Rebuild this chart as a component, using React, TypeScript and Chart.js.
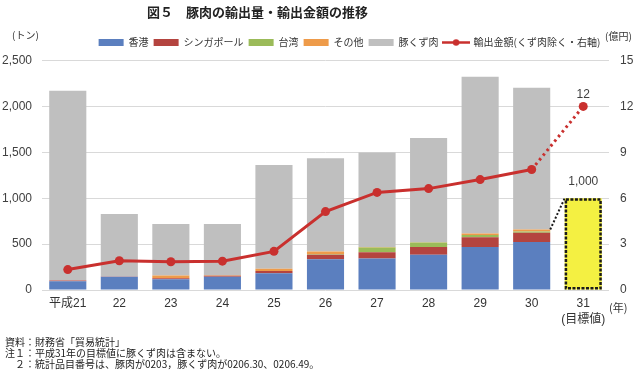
import React, { useEffect, useRef } from 'react';
import { Chart, registerables } from 'chart.js';

Chart.register(...registerables);

const categories: (string | string[])[] = ['平成21', '22', '23', '24', '25', '26', '27', '28', '29', '30', ['31', '(目標値)']];
const hongKong = [95, 146, 117, 146, 183, 337, 345, 385, 469, 524, null];
const singapore = [10, 3, 11, 10, 26, 48, 66, 84, 107, 99, null];
const taiwan = [0, 0, 0, 0, 0, 5, 52, 48, 25, 15, null];
const others = [0, 0, 30, 5, 24, 29, 5, 5, 15, 22, null];
const porkOffal = [2065, 680, 561, 558, 1128, 1016, 1030, 1133, 1708, 1543, null];
const target = [null, null, null, null, null, null, null, null, null, null, 1000];
const exportValue = [1.34, 1.92, 1.85, 1.89, 2.53, 5.13, 6.38, 6.63, 7.22, 7.88, 12];

const leftTicks = [0, 500, 1000, 1500, 2000, 2500];
const rightTicks = [0, 3, 6, 9, 12, 15];

const seriesNames = ['香港', 'シンガポール', '台湾', 'その他', '豚くず肉', '目標値', '輸出金額(くず肉除く・右軸)'];
const seriesColors = ['#5B7FBF', '#B4443F', '#9BBB59', '#EE9B4A', '#BFBFBF', '#F4F042', '#C9302E'];

const FONT = "'Liberation Sans', 'Noto Sans CJK JP', sans-serif";
const JFONT = "'Noto Sans CJK JP', 'Liberation Sans', sans-serif";

function makeLineIcon(color: string) {
  const c = document.createElement('canvas');
  c.width = 28;
  c.height = 9;
  const g = c.getContext('2d')!;
  g.strokeStyle = color;
  g.lineWidth = 2.5;
  g.beginPath();
  g.moveTo(0, 4.5);
  g.lineTo(28, 4.5);
  g.stroke();
  g.fillStyle = color;
  g.beginPath();
  g.arc(14, 4.5, 3.2, 0, Math.PI * 2);
  g.fill();
  return c;
}

const LEGEND_SHIFT_X = 32;
const LEGEND_SHIFT_Y = -3;

const annotatePlugin = {
  id: 'annotate',
  afterLayout(chart: any) {
    const lg = chart.legend;
    if (lg) {
      lg.left += LEGEND_SHIFT_X;
      lg.right += LEGEND_SHIFT_X;
      lg.top += LEGEND_SHIFT_Y;
      lg.bottom += LEGEND_SHIFT_Y;
    }
  },
  afterDatasetsDraw(chart: any) {
    const ctx = chart.ctx;
    const yS = chart.scales.y;
    const tIdx = categories.length - 1;
    const targetBar = chart.getDatasetMeta(5).data[tIdx];
    const prevBar = chart.getDatasetMeta(0).data[tIdx - 1];
    if (!targetBar || !prevBar) return;
    const tb = targetBar.getProps(['x', 'y', 'base', 'width'], true);
    const pb = prevBar.getProps(['x', 'width'], true);
    ctx.save();
    ctx.strokeStyle = '#1a1a1a';
    ctx.lineWidth = 2.5;
    ctx.setLineDash([3, 1.5]);
    ctx.strokeRect(tb.x - tb.width / 2 + 1.25, tb.y + 1.25, tb.width - 2.5, tb.base - tb.y - 2.5);
    const stackTop = (hongKong[tIdx - 1] || 0) + (singapore[tIdx - 1] || 0) + (taiwan[tIdx - 1] || 0) + (others[tIdx - 1] || 0);
    ctx.lineWidth = 2;
    ctx.setLineDash([2, 2]);
    ctx.beginPath();
    ctx.moveTo(pb.x + pb.width / 2, yS.getPixelForValue(stackTop));
    ctx.lineTo(tb.x - tb.width / 2, tb.y);
    ctx.stroke();
    ctx.setLineDash([]);
    ctx.fillStyle = '#404040';
    ctx.font = `12px ${FONT}`;
    ctx.textAlign = 'center';
    ctx.textBaseline = 'middle';
    ctx.fillText((target[tIdx] as number).toLocaleString('en-US'), tb.x, tb.y - 17);
    const pt = chart.getDatasetMeta(6).data[tIdx];
    if (pt) ctx.fillText(String(exportValue[tIdx]), pt.x, pt.y - 12);
    ctx.restore();
  },
};

export default function App() {
  const ref = useRef<HTMLCanvasElement>(null);

  useEffect(() => {
    const lineIcon = makeLineIcon(seriesColors[6]);
    const barSeries = [hongKong, singapore, taiwan, others, porkOffal, target];
    const datasets: any[] = barSeries.map((d, i) => ({
      type: 'bar',
      label: seriesNames[i],
      data: d,
      backgroundColor: seriesColors[i],
      borderWidth: 0,
      yAxisID: 'y',
      stack: 'volume',
      order: 2,
    }));
    datasets.push({
      type: 'line',
      label: seriesNames[6],
      data: exportValue,
      borderColor: seriesColors[6],
      backgroundColor: seriesColors[6],
      borderWidth: 3,
      pointRadius: 4.5,
      pointBorderWidth: 0,
      pointBackgroundColor: seriesColors[6],
      tension: 0,
      yAxisID: 'y1',
      order: 0,
      segment: {
        borderDash: (c: any) => (c.p1DataIndex === categories.length - 1 ? [2.5, 3.5] : undefined),
      },
    });

    const chart = new Chart(ref.current!, {
      type: 'bar',
      data: { labels: categories as any, datasets },
      plugins: [annotatePlugin],
      options: {
        responsive: false,
        animation: false,
        devicePixelRatio: 1,
        layout: { padding: { left: 2, right: 7, top: 35.5, bottom: 43 } },
        font: { family: FONT },
        plugins: {
          tooltip: { enabled: false },
          title: { display: false },
          legend: {
            display: true,
            position: 'top',
            align: 'center',
            labels: {
              usePointStyle: true,
              pointStyleWidth: 25,
              boxHeight: 7,
              padding: 5,
              color: '#333',
              font: { size: 10, family: JFONT },
              filter: (item: any) => item.datasetIndex !== 5,
              generateLabels: (ch: any) => {
                const base = (Chart.defaults.plugins.legend.labels as any).generateLabels(ch);
                return base
                  .sort((a: any, b: any) => a.datasetIndex - b.datasetIndex)
                  .map((it: any) => ({
                    ...it,
                    pointStyle: it.datasetIndex === 6 ? lineIcon : 'rect',
                    lineWidth: 0,
                    strokeStyle: 'transparent',
                    fillStyle: seriesColors[it.datasetIndex],
                  }));
              },
            },
          },
        },
        scales: {
          x: {
            stacked: true,
            offset: true,
            grid: { display: false, drawTicks: false },
            border: { display: false },
            ticks: {
              color: '#333',
              padding: 6,
              font: { size: 12, family: FONT, lineHeight: 1.33 },
              maxRotation: 0,
              autoSkip: false,
            },
            afterFit: (s: any) => { s.paddingLeft = 0; s.paddingRight = 0; },
            categoryPercentage: 0.505,
            barPercentage: 1,
          } as any,
          y: {
            stacked: true,
            position: 'left',
            min: leftTicks[0],
            max: leftTicks[leftTicks.length - 1],
            afterBuildTicks: (s: any) => { s.ticks = leftTicks.map((v) => ({ value: v })); },
            afterFit: (s: any) => { s.width = 40; },
            grid: { color: '#D9D9D9', lineWidth: 1, drawTicks: false },
            border: { display: false },
            ticks: {
              color: '#404040',
              padding: 10,
              font: { size: 12, family: FONT },
              callback: (v: any) => Number(v).toLocaleString('en-US'),
            },
          },
          y1: {
            position: 'right',
            min: rightTicks[0],
            max: rightTicks[rightTicks.length - 1],
            afterBuildTicks: (s: any) => { s.ticks = rightTicks.map((v) => ({ value: v })); },
            afterFit: (s: any) => { s.width = 24; },
            grid: { display: false, drawTicks: false },
            border: { display: false },
            ticks: {
              color: '#404040',
              padding: 11,
              font: { size: 12, family: FONT },
            },
          },
        },
      } as any,
    });
    return () => chart.destroy();
  }, []);

  const abs = (l: number, t: number, extra: any = {}) => ({
    position: 'absolute' as const,
    left: l,
    top: t,
    whiteSpace: 'nowrap' as const,
    fontFamily: JFONT,
    color: '#333',
    ...extra,
  });

  return (
    <div style={{ position: 'fixed', left: 0, top: 0, width: 640, height: 377, background: '#fff', overflow: 'hidden' }}>
      <canvas ref={ref} width={640} height={377} style={{ position: 'absolute', left: 0, top: 0, width: 640, height: 377 }} />
      <div style={abs(147, 3, { fontSize: 13, fontWeight: 'bold', lineHeight: '17px', color: '#222' })}>図５　豚肉の輸出量・輸出金額の推移</div>
      <div style={abs(12, 29, { fontSize: 10, lineHeight: '12px' })}>(トン)</div>
      <div style={abs(605, 30, { fontSize: 10, lineHeight: '12px' })}>(億円)</div>
      <div style={abs(609, 300.5, { fontSize: 11, lineHeight: '13px' })}>(年)</div>
      <div style={abs(5, 336, { fontSize: 10, lineHeight: '11px', color: '#222' })}>
        <div>資料：財務省「貿易統計」</div>
        <div>注１：平成31年の目標値に豚くず肉は含まない。</div>
        <div style={{ paddingLeft: 10 }}>２：統計品目番号は、豚肉が0203，豚くず肉が0206.30、0206.49。</div>
      </div>
    </div>
  );
}
